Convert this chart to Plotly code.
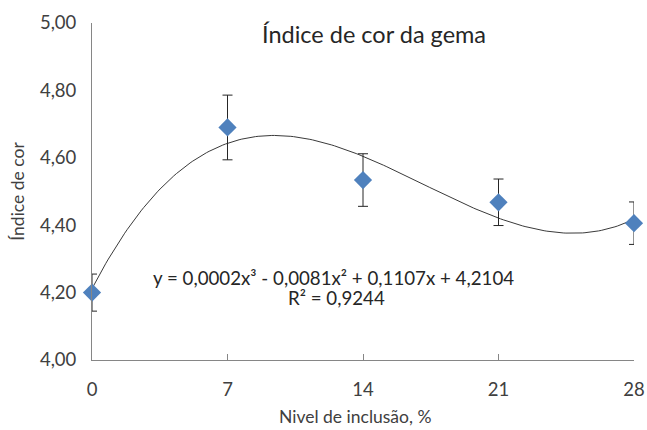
import numpy as np
import plotly.graph_objects as go

levels = [0, 7, 14, 21, 28]
color_index = [4.20, 4.69, 4.534, 4.468, 4.406]
error_sd = [0.055, 0.096, 0.078, 0.069, 0.063]
x_ticks = [0, 7, 14, 21, 28]
y_ticks = [4.0, 4.2, 4.4, 4.6, 4.8, 5.0]

title_text = "Índice de cor da gema"
x_title = "Nivel de inclusão, %"
y_title = "Índice de cor"
eq_text = "y = 0,0002x³ - 0,0081x² + 0,1107x + 4,2104"
r2_text = "R² = 0,9244"

# Polynomial (order 3) trendline fitted to the data, as in the original spreadsheet
coef = np.polyfit(levels, color_index, 3)
xs = np.linspace(min(levels), max(levels), 200)
ys = np.polyval(coef, xs)

FONT = "Lato"
TXT = "#404040"

fig = go.Figure()
fig.add_trace(go.Scatter(
    x=xs, y=ys, mode="lines",
    line=dict(color="#3a3a3a", width=1),
    hoverinfo="skip", showlegend=False,
))
fig.add_trace(go.Scatter(
    x=levels, y=color_index, mode="markers",
    marker=dict(symbol="diamond", size=14, color="#4F81BD"),
    error_y=dict(type="data", array=error_sd, color="#262626", thickness=1, width=5),
    cliponaxis=False, showlegend=False,
))

fig.update_layout(
    width=647, height=430,
    margin=dict(l=92, r=13, t=23, b=70),
    paper_bgcolor="white", plot_bgcolor="white",
    separators=",.",
    font=dict(family=FONT, color=TXT, size=18),
    showlegend=False,
    xaxis=dict(
        range=[0, 28], tickvals=x_ticks, ticks="inside", ticklen=6,
        tickcolor="#868686", showline=True, linecolor="#868686", linewidth=1,
        showgrid=False, zeroline=False, tickfont=dict(size=18.5, color=TXT),
        ticklabelstandoff=13, automargin=False,
    ),
    yaxis=dict(
        range=[4.0, 5.0], tickvals=y_ticks, tickformat=".2f", ticks="",
        showline=True, linecolor="#868686", linewidth=1,
        showgrid=False, zeroline=False, tickfont=dict(size=18.5, color=TXT),
        ticklabelstandoff=11, automargin=False,
    ),
    annotations=[
        dict(text=title_text, xref="paper", yref="paper", x=0.52, y=0.966,
             xanchor="center", yanchor="middle", showarrow=False,
             font=dict(size=23.5, color="#262626", family=FONT)),
        dict(text=eq_text, xref="paper", yref="paper", x=0.445, y=0.243,
             xanchor="center", yanchor="middle", showarrow=False,
             font=dict(size=18.7, color="#262626", family=FONT)),
        dict(text=r2_text, xref="paper", yref="paper", x=0.452, y=0.183,
             xanchor="center", yanchor="middle", showarrow=False,
             font=dict(size=18.7, color="#262626", family=FONT)),
        dict(text=x_title, xref="paper", yref="paper", x=0.485, y=-0.169,
             xanchor="center", yanchor="middle", showarrow=False,
             font=dict(size=17.5, color=TXT, family=FONT)),
        dict(text=y_title, xref="paper", yref="paper", x=-0.138, y=0.5,
             xanchor="center", yanchor="middle", showarrow=False, textangle=-90,
             font=dict(size=17.5, color=TXT, family=FONT)),
    ],
)

fig.write_html("out.html")
